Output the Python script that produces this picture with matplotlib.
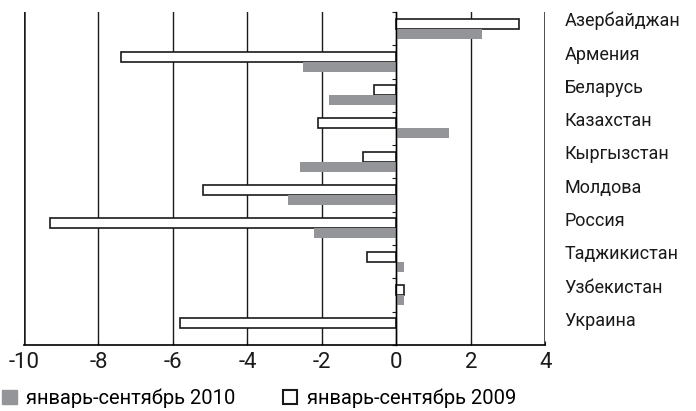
import matplotlib
matplotlib.use("Agg")
import matplotlib.pyplot as plt
import numpy as np
from matplotlib.patches import Patch

plt.rcParams["font.family"] = ["Roboto", "DejaVu Sans"]

countries = ["Азербайджан", "Армения", "Беларусь", "Казахстан", "Кыргызстан",
             "Молдова", "Россия", "Таджикистан", "Узбекистан", "Украина"]
v2009 = [3.3, -7.4, -0.6, -2.1, -0.9, -5.2, -9.3, -0.8, 0.2, -5.8]
v2010 = [2.3, -2.5, -1.8, 1.4, -2.6, -2.9, -2.2, 0.2, 0.2, 0.0]
xticks = [-10, -8, -6, -4, -2, 0, 2, 4]

GRAY = "#939598"
INK = "#1a1a1a"

fig = plt.figure(figsize=(6.96, 4.11), dpi=100)
ax = fig.add_axes([0.0345, 0.161, 0.749, 0.81])

y = np.arange(len(countries))
h = 0.3
ax.barh(y - h / 2, v2009, height=h, color="white", edgecolor=INK, lw=1.2, zorder=3)
ax.barh(y + h / 2, v2010, height=h, color=GRAY, lw=0, zorder=3)

ax.set_xlim(-10, 4)
ax.set_ylim(len(countries) - 0.5, -0.5)
ax.set_xticks(xticks)
ax.set_xticklabels([str(t) for t in xticks], fontsize=16, color=INK)
ax.tick_params(axis="x", direction="in", length=3, pad=5, color=INK)

for t in xticks[1:-1]:
    ax.axvline(t, color=INK, lw=1.0, zorder=1)
for t in (xticks[0], xticks[-1]):
    ax.axvline(t, color=INK, lw=1.8, zorder=1)

# category axis sits at zero, ticks between categories
ax.spines["left"].set_position(("data", 0))
ax.spines["left"].set_linewidth(1.0)
ax.spines["left"].set_zorder(4)
ax.set_yticks(np.arange(len(countries) + 1) - 0.5)
ax.set_yticklabels([])
ax.tick_params(axis="y", direction="out", length=3, color=INK)
for s in ("top", "right"):
    ax.spines[s].set_visible(False)
ax.spines["bottom"].set_linewidth(1.2)

for i, c in enumerate(countries):
    ax.text(4.52, i - 0.22, c, fontsize=13, color=INK, va="center", ha="left",
            clip_on=False)

handles = [Patch(facecolor=GRAY, edgecolor=GRAY, label="январь-сентябрь 2010"),
           Patch(facecolor="white", edgecolor=INK, lw=1.5, label="январь-сентябрь 2009")]
fig.legend(handles=handles, loc="lower left", bbox_to_anchor=(-0.008, -0.012), ncol=2,
           frameon=False, fontsize=14.5, handlelength=0.7, handleheight=0.7,
           handletextpad=0.45, columnspacing=2.4, borderaxespad=0.0)

fig.savefig("out.png", dpi=100, facecolor="white")
